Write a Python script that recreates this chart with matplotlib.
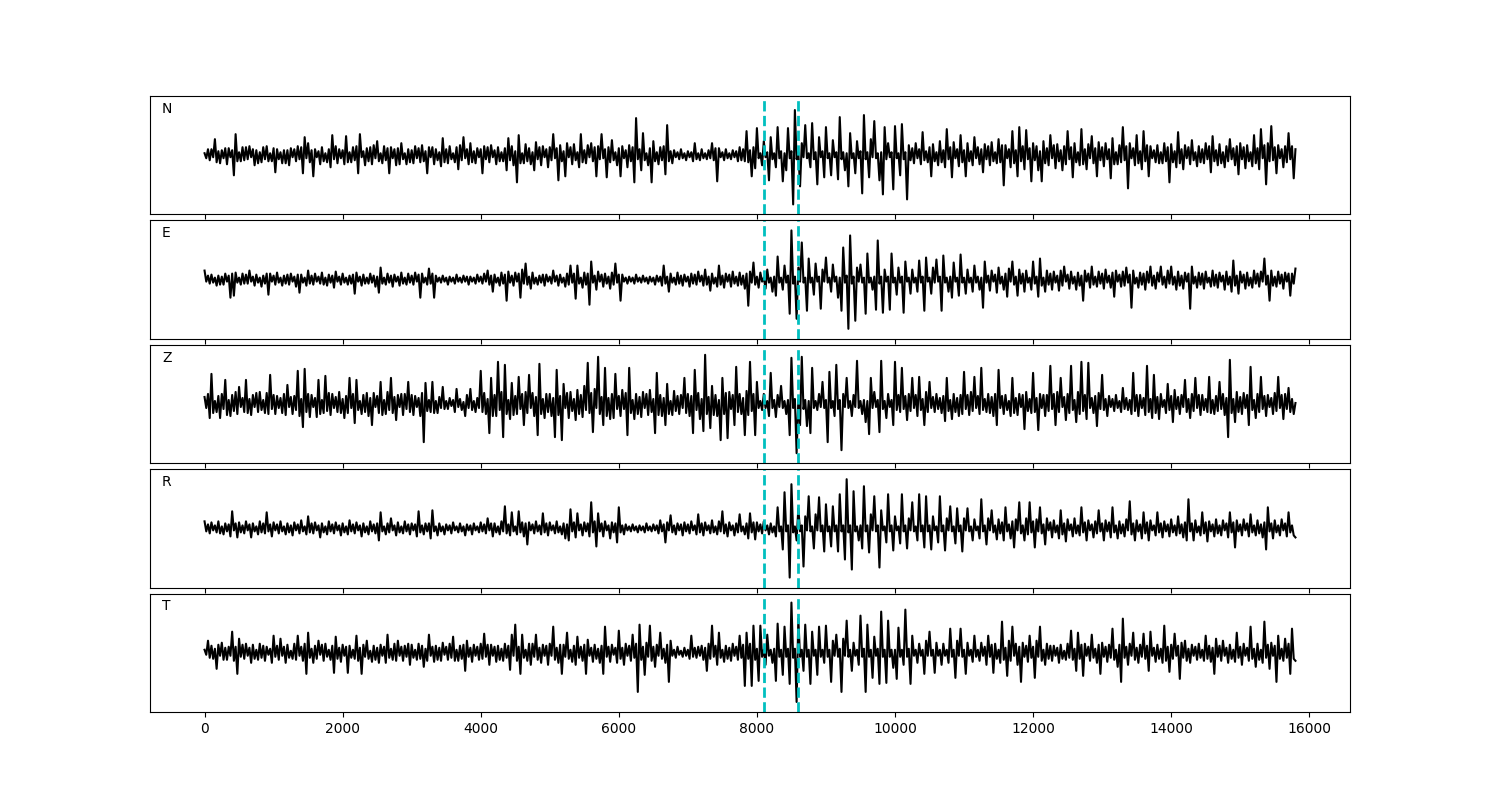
"""
Five-component seismogram (N, E, Z, R, T) with two picks
Output: out.png
"""

import numpy as np
import matplotlib
matplotlib.use("Agg")
import matplotlib.pyplot as plt

OUTPUT_PNG = "out.png"

DT = 25
# picks (dashed cyan lines)
PICKS = [8110, 8600]
COMPONENTS = ["N", "E", "Z", "R", "T"]

# amplitudes, one value every DT (one row = 1000 units)
TRACE_N = [
    2, -3, 6, -5, 6, -2, 16, -7, 4, -8, 5, -3, 7, -9, 7, -2, 5, -20, 21, -6, 3, -6, 8, -5, 8, -4, 9, -2, 6, -10, 5, -8, 3, -7, 8, -4, 9, -6, 2, -6,
    7, -17, 6, -4, 3, -8, 5, -8, 5, -10, 7, -2, 6, -6, 9, -4, 8, -18, 18, -3, 12, -7, 5, -21, 6, -2, 4, -9, 8, -6, 2, -7, 6, -12, 20, -4, 9, -8, 6, -3,
    5, -9, 19, -7, 3, -7, 8, -5, 9, -18, 21, -2, 4, -10, 7, -6, 8, -9, 10, -3, 14, -6, 2, -8, 9, -5, 7, -18, 8, -3, 6, -10, 7, -9, 12, -4, 2, -9, 6, -7,
    5, -8, 9, -3, 7, -7, 10, -6, 4, -18, 8, -2, 8, -9, 6, -5, 3, -11, 17, -7, 6, -8, 9, -4, 2, -7, 8, -14, 10, -5, 18, -3, 6, -9, 12, -7, 4, -8, 7, -2,
    6, -18, 9, -4, 8, -7, 10, -2, 5, -9, 8, -6, 3, -6, 7, -15, 17, -5, 9, -10, 4, -27, 20, -8, 2, -8, 11, -6, 7, -9, 3, -15, 13, -4, 8, -10, 9, -2, 6, -12,
    8, -5, 21, -3, 7, -25, 10, -6, 4, -21, 12, -2, 8, -9, 11, -5, 3, -12, 21, -7, 5, -8, 10, -2, 12, -6, 8, -21, 9, -4, 21, -3, 6, -22, 8, -7, 15, -5, 3, -10,
    7, -21, 9, -3, 5, -12, 10, -6, 8, -27, 37, -4, 6, -15, 22, -5, 2, -10, 7, -27, 14, -6, 3, -9, 8, -5, 9, -19, 30, -6, 4, -8, 5, -2, 3, -4, 6, -3, 2, -5,
    4, -2, 3, -6, 12, -4, 2, -5, 6, -3, 2, -4, 5, -3, 12, -5, 7, -26, 7, -2, 3, -5, 6, -3, 2, -4, 5, -2, 4, -6, 8, -5, 6, -6, 24, -7, 5, -21, 8, -13,
    27, -3, 2, -10, 14, -2, 3, -25, 18, -4, 2, -12, 28, -3, 4, -26, 2, -15, 27, -3, 4, -49, 45, -4, 3, -31, 12, -2, 30, -3, 2, -12, 32, -4, 3, -29, 18, -2, 4, -22,
    28, -3, 2, -20, 15, -2, 3, -24, 38, -4, 3, -15, 2, -31, 22, -3, 2, -18, 14, -3, 4, -38, 40, -4, 3, -22, 16, -2, 34, -3, 2, -25, 3, -39, 28, -4, 12, -2, 3, -34,
    29, -3, 2, -20, 31, -4, 3, -44, 10, -5, 7, -8, 12, -3, 6, -9, 23, -5, 4, -7, 8, -21, 11, -6, 3, -10, 14, -7, 5, -12, 26, -4, 8, -22, 13, -3, 6, -11, 20, -7,
    5, -21, 12, -6, 4, -10, 18, -3, 8, -9, 6, -17, 11, -4, 9, -10, 13, -6, 3, -8, 16, -7, 10, -30, 10, -3, 6, -12, 24, -8, 5, -21, 28, -6, 9, -14, 25, -4, 7, -26,
    12, -5, 9, -15, 4, -26, 14, -8, 7, -10, 20, -3, 10, -13, 11, -6, 5, -15, 9, -9, 24, -4, 8, -22, 12, -7, 3, -10, 26, -9, 6, -14, 11, -3, 19, -8, 7, -21, 13, -5,
    8, -11, 12, -4, 6, -23, 17, -9, 3, -9, 10, -7, 28, -5, 9, -33, 12, -3, 7, -10, 20, -8, 4, -14, 24, -6, 10, -21, 9, -3, 5, -7, 10, -8, 3, -8, 12, -6, 8, -27,
    11, -7, 4, -12, 23, -8, 6, -14, 10, -3, 8, -9, 15, -5, 3, -11, 9, -7, 6, -8, 12, -4, 9, -17, 19, -6, 5, -10, 11, -8, 3, -12, 9, -6, 16, -4, 7, -10, 9, -19,
    12, -4, 8, -13, 10, -6, 3, -11, 20, -8, 7, -14, 26, -3, 10, -29, 12, -6, 29, -5, 8, -18, 10, -3, 6, -12, 9, -7, 22, -4, 9, -23, 6,
]

TRACE_E = [
    9, -2, 4, -4, 5, -3, 2, -6, 4, -5, 3, -5, 6, -2, 4, -18, 6, -16, 7, -3, 2, -5, 6, -4, 5, -4, 9, -2, 3, -6, 5, -3, 2, -7, 4, -4, 6, -15, 6, -2,
    4, -5, 7, -3, 2, -6, 4, -4, 5, -5, 6, -2, 3, -7, 5, -13, 5, -3, 2, -6, 9, -4, 4, -5, 6, -2, 3, -4, 7, -5, 2, -6, 5, -3, 4, -8, 8, -2, 3, -5,
    6, -3, 2, -5, 4, -4, 5, -14, 7, -2, 3, -6, 5, -4, 2, -4, 6, -3, 4, -7, 3, -13, 12, -4, 2, -5, 6, -3, 4, -7, 5, -2, 3, -6, 7, -4, 2, -5, 6, -3,
    4, -5, 7, -2, 5, -18, 6, -3, 2, -5, 11, -4, 6, -18, 4, -2, 2, -3, 4, -2, 2, -5, 3, -2, 2, -4, 5, -2, 2, -3, 4, -2, 3, -5, 3, -2, 2, -4, 5, -2,
    3, -4, 6, -2, 9, -5, 4, -12, 5, -3, 2, -6, 7, -4, 5, -21, 8, -3, 4, -6, 7, -2, 6, -18, 10, -4, 16, -5, 3, -9, 7, -4, 2, -5, 4, -3, 5, -6, 5, -2,
    3, -4, 9, -2, 4, -6, 5, -3, 2, -7, 6, -5, 14, -3, 6, -19, 14, -4, 2, -8, 7, -5, 6, -25, 18, -3, 4, -10, 8, -2, 5, -7, 6, -4, 3, -9, 7, -5, 16, -3,
    5, -21, 5, -2, 2, -4, 3, -2, 2, -4, 5, -2, 2, -3, 4, -2, 2, -4, 3, -2, 2, -5, 4, -2, 3, -6, 14, -4, 3, -12, 6, -3, 2, -5, 7, -4, 4, -6, 5, -2,
    3, -7, 6, -4, 5, -5, 8, -2, 4, -6, 10, -5, 3, -11, 6, -4, 2, -7, 14, -5, 4, -8, 6, -2, 5, -7, 8, -4, 3, -6, 7, -5, 4, -9, 6, -26, 8, -3, 17, -5,
    3, -8, 7, -2, 2, -9, 10, -3, 2, -12, 3, -16, 23, -3, 2, -10, 14, -3, 4, -34, 49, -4, 3, -39, 12, -2, 37, -3, 2, -31, 21, -3, 2, -15, 16, -2, 3, -29, 10, -2,
    22, -3, 2, -12, 15, -2, 3, -18, 2, -31, 32, -3, 4, -49, 44, -4, 3, -41, 12, -2, 15, -3, 2, -34, 26, -3, 2, -10, 3, -30, 39, -4, 3, -33, 10, -2, 3, -30, 26, -3,
    2, -15, 12, -3, 3, -33, 18, -2, 2, -14, 10, -3, 2, -12, 19, -3, 3, -31, 22, -2, 2, -14, 12, -3, 20, -2, 3, -31, 24, -3, 2, -12, 3, -18, 17, -2, 2, -16, 25, -3,
    2, -14, 10, -3, 2, -12, 14, -3, 3, -10, 2, -28, 18, -3, 4, -11, 9, -2, 5, -13, 12, -4, 3, -10, 6, -17, 11, -2, 18, -5, 3, -16, 10, -4, 6, -12, 9, -3, 2, -10,
    18, -4, 3, -17, 21, -6, 2, -12, 9, -5, 6, -10, 8, -3, 4, -11, 9, -6, 13, -2, 5, -9, 8, -4, 3, -10, 7, -6, 4, -21, 9, -2, 6, -8, 13, -5, 3, -7, 8, -4,
    6, -9, 10, -3, 4, -8, 7, -17, 9, -2, 5, -7, 8, -6, 12, -3, 5, -28, 9, -4, 2, -8, 7, -5, 6, -10, 8, -3, 13, -6, 4, -9, 7, -2, 13, -5, 3, -8, 9, -4,
    13, -5, 3, -10, 8, -6, 4, -9, 7, -2, 6, -29, 13, -4, 3, -8, 7, -5, 6, -9, 8, -3, 2, -7, 9, -6, 5, -8, 7, -2, 4, -10, 8, -5, 3, -12, 19, -6, 4, -14,
    8, -3, 5, -9, 7, -6, 2, -8, 9, -4, 6, -7, 8, -2, 21, -5, 4, -21, 9, -6, 3, -7, 8, -4, 5, -9, 7, -2, 6, -16, 6, -4, 11,
]

TRACE_Z = [
    7, -4, 10, -14, 30, -9, 3, -8, 8, -14, 10, -5, 24, -11, 4, -12, 9, -7, 12, -10, 17, -3, 6, -8, 24, -9, 5, -11, 9, -3, 11, -8, 12, -6, 4, -9, 11, -10, 29, -5,
    9, -10, 8, -4, 6, -9, 10, -11, 19, -3, 7, -10, 8, -6, 33, -12, 5, -23, 35, -8, 10, -13, 9, -3, 6, -13, 24, -10, 4, -9, 28, -7, 11, -11, 10, -4, 7, -8, 12, -9,
    5, -14, 8, -9, 26, -4, 10, -19, 24, -6, 3, -10, 9, -8, 11, -12, 6, -21, 11, -3, 8, -9, 22, -11, 4, -10, 12, -6, 26, -9, 7, -16, 9, -3, 10, -11, 10, -5, 22, -8,
    9, -11, 8, -3, 6, -12, 11, -38, 21, -7, 4, -8, 22, -9, 3, -9, 7, -4, 17, -5, 3, -5, 6, -2, 4, -8, 15, -3, 5, -6, 2, -12, 9, -4, 15, -6, 3, -8, 6, -4,
    33, -8, 11, -10, 5, -29, 26, -12, 9, -12, 42, -6, 12, -33, 39, -10, 4, -15, 21, -11, 8, -10, 27, -5, 10, -21, 12, -9, 29, -4, 11, -12, 7, -31, 40, -10, 5, -14, 10, -8,
    10, -12, 6, -33, 34, -11, 8, -36, 20, -4, 11, -14, 12, -7, 5, -16, 14, -10, 9, -13, 18, -6, 41, -9, 11, -28, 15, -4, 47, -10, 7, -21, 36, -12, 6, -15, 10, -14, 30, -5,
    8, -12, 14, -5, 11, -31, 36, -9, 4, -15, 10, -10, 7, -13, 12, -4, 10, -11, 14, -8, 5, -29, 31, -11, 9, -12, 6, -21, 20, -10, 3, -11, 13, -7, 8, -10, 9, -4, 26, -9,
    10, -12, 8, -29, 34, -6, 11, -15, 5, -27, 49, -10, 7, -24, 18, -11, 9, -12, 4, -36, 26, -10, 11, -34, 12, -5, 9, -21, 37, -8, 10, -10, 6, -31, 13, -11, 42, -7, 10, -31,
    22, -4, 3, -6, 10, -4, 3, -12, 31, -4, 4, -13, 9, -3, 18, -4, 3, -10, 4, -31, 46, -4, 5, -49, 4, -21, 47, -5, 4, -22, 3, -29, 36, -4, 3, -6, 10, -3, 22, -4,
    4, -38, 32, -4, 3, -12, 39, -5, 4, -46, 10, -3, 26, -4, 3, -12, 9, -3, 43, -4, 3, -10, 4, -18, 3, -30, 26, -4, 12, -3, 4, -28, 43, -5, 3, -14, 10, -3, 4, -21,
    42, -6, 9, -8, 36, -5, 8, -16, 10, -7, 26, -4, 9, -12, 27, -6, 5, -21, 12, -8, 22, -4, 7, -8, 10, -5, 6, -9, 8, -17, 26, -7, 4, -15, 10, -8, 6, -12, 9, -10,
    32, -5, 9, -11, 12, -7, 27, -4, 8, -10, 36, -6, 5, -8, 10, -9, 7, -12, 10, -21, 34, -4, 8, -10, 9, -6, 3, -12, 26, -9, 6, -11, 10, -3, 9, -25, 12, -7, 5, -9,
    31, -8, 6, -26, 10, -4, 9, -12, 9, -7, 38, -5, 10, -21, 12, -8, 26, -3, 7, -16, 10, -9, 38, -6, 4, -18, 12, -10, 42, -7, 9, -15, 41, -4, 6, -9, 8, -22, 11, -5,
    29, -6, 5, -12, 8, -3, 5, -7, 9, -4, 3, -8, 16, -5, 6, -6, 4, -10, 31, -7, 9, -12, 9, -4, 6, -11, 38, -8, 5, -14, 29, -9, 7, -15, 10, -3, 4, -9, 20, -6,
    8, -18, 14, -5, 7, -10, 9, -3, 24, -8, 5, -14, 10, -7, 26, -4, 9, -11, 9, -6, 5, -8, 27, -9, 4, -10, 8, -7, 22, -5, 10, -11, 6, -33, 44, -9, 5, -18, 12, -8,
    7, -10, 11, -4, 9, -21, 37, -6, 4, -14, 10, -8, 27, -5, 8, -12, 9, -3, 6, -10, 11, -7, 27, -4, 9, -15, 10, -5, 16, -8, 5, -10, 1,
]

TRACE_R = [
    7, -3, 4, -5, 6, -2, 3, -4, 7, -5, 2, -6, 5, -3, 4, -8, 17, -2, 5, -9, 6, -4, 3, -5, 7, -2, 4, -9, 5, -3, 2, -6, 7, -4, 5, -5, 16, -3, 4, -8,
    6, -2, 4, -5, 7, -3, 2, -6, 5, -4, 3, -7, 6, -2, 4, -5, 8, -3, 2, -6, 12, -4, 5, -5, 6, -2, 3, -9, 5, -4, 2, -6, 7, -3, 4, -5, 6, -2, 3, -7,
    5, -4, 2, -6, 8, -3, 4, -5, 6, -2, 3, -8, 5, -4, 2, -6, 7, -3, 4, -5, 5, -12, 16, -3, 2, -6, 5, -4, 10, -2, 3, -7, 6, -4, 2, -5, 7, -3, 4, -6,
    5, -2, 4, -8, 17, -4, 3, -6, 5, -3, 5, -10, 18, -3, 2, -7, 5, -3, 2, -6, 4, -2, 3, -5, 6, -2, 2, -4, 5, -3, 2, -7, 4, -2, 3, -6, 5, -2, 2, -4,
    6, -3, 4, -5, 10, -2, 5, -8, 5, -4, 2, -6, 7, -3, 22, -5, 4, -7, 16, -3, 2, -6, 17, -4, 6, -8, 5, -16, 6, -2, 4, -5, 7, -3, 3, -6, 15, -4, 5, -7,
    6, -2, 3, -5, 7, -4, 2, -6, 5, -10, 4, -12, 19, -3, 6, -9, 15, -2, 4, -7, 6, -3, 5, -8, 26, -4, 7, -18, 15, -3, 5, -8, 7, -2, 3, -10, 6, -4, 5, -14,
    21, -4, 3, -6, 4, -2, 2, -3, 4, -2, 2, -4, 3, -2, 2, -4, 5, -2, 2, -3, 4, -2, 3, -5, 8, -3, 4, -14, 6, -2, 13, -4, 3, -6, 5, -2, 4, -7, 6, -3,
    4, -5, 7, -2, 3, -6, 14, -4, 5, -7, 6, -2, 3, -5, 8, -4, 2, -6, 7, -3, 17, -5, 4, -8, 6, -2, 3, -7, 5, -4, 14, -3, 2, -6, 5, -10, 15, -4, 6, -11,
    6, -3, 4, -5, 7, -2, 3, -6, 5, -4, 2, -8, 21, -3, 2, -21, 36, -3, 3, -49, 44, -4, 2, -12, 20, -3, 3, -38, 12, -2, 32, -3, 2, -20, 14, -2, 31, -3, 3, -23,
    24, -3, 2, -18, 22, -3, 3, -23, 34, -3, 3, -31, 49, -4, 3, -41, 37, -3, 2, -12, 3, -20, 42, -3, 3, -24, 14, -2, 32, -3, 3, -39, 18, -2, 2, -14, 34, -3, 3, -22,
    12, -2, 2, -15, 34, -3, 3, -20, 10, -2, 26, -3, 2, -12, 34, -3, 3, -19, 32, -3, 3, -21, 12, -2, 2, -14, 32, -3, 3, -22, 10, -2, 22, -3, 2, -15, 20, -3, 3, -23,
    10, -2, 20, -3, 2, -12, 9, -2, 2, -10, 29, -3, 3, -16, 10, -2, 18, -4, 3, -11, 9, -5, 6, -12, 21, -3, 4, -10, 7, -19, 9, -2, 26, -5, 3, -12, 10, -6, 26, -4,
    7, -19, 9, -3, 21, -5, 4, -16, 10, -2, 6, -9, 8, -4, 3, -10, 18, -6, 5, -13, 9, -2, 4, -8, 10, -5, 3, -7, 21, -4, 6, -12, 8, -2, 4, -9, 7, -5, 18, -3,
    5, -12, 8, -3, 6, -9, 21, -4, 3, -10, 7, -5, 4, -8, 9, -2, 27, -6, 5, -12, 8, -3, 4, -10, 16, -5, 6, -12, 8, -2, 3, -7, 16, -4, 5, -9, 7, -3, 4, -8,
    9, -4, 3, -7, 12, -5, 4, -9, 6, -12, 29, -3, 5, -12, 8, -4, 2, -7, 16, -5, 6, -13, 7, -3, 4, -8, 9, -5, 3, -7, 8, -2, 5, -9, 16, -4, 6, -19, 8, -3,
    4, -7, 9, -2, 5, -8, 14, -4, 3, -7, 8, -5, 4, -9, 6, -21, 21, -3, 5, -10, 8, -4, 3, -7, 9, -2, 5, -8, 16, -4, 3, -7, -9,
]

TRACE_T = [
    3, -2, 12, -5, 7, -6, 4, -16, 8, -3, 10, -7, 5, -7, 6, -3, 21, -8, 6, -21, 14, -4, 8, -6, 9, -3, 5, -10, 8, -6, 3, -7, 9, -5, 7, -8, 6, -2, 4, -10,
    17, -4, 7, -7, 14, -3, 6, -10, 8, -5, 2, -6, 9, -7, 17, -3, 6, -8, 9, -21, 20, -5, 4, -10, 7, -6, 12, -2, 8, -8, 9, -4, 3, -7, 7, -20, 16, -6, 5, -9,
    8, -3, 6, -20, 7, -5, 3, -6, 17, -8, 5, -21, 8, -4, 12, -6, 2, -9, 7, -7, 5, -10, 8, -3, 6, -10, 18, -5, 4, -7, 9, -8, 12, -3, 6, -8, 7, -4, 9, -12,
    8, -5, 3, -7, 9, -6, 7, -14, 4, -8, 18, -3, 6, -9, 7, -7, 5, -8, 10, -2, 6, -7, 9, -5, 16, -8, 3, -8, 7, -6, 8, -18, 12, -4, 5, -9, 8, -3, 6, -7,
    9, -6, 19, -4, 8, -12, 8, -3, 6, -9, 7, -7, 4, -8, 9, -5, 7, -17, 18, -3, 28, -8, 6, -21, 18, -5, 3, -8, 9, -12, 9, -4, 18, -7, 5, -10, 8, -3, 7, -12,
    9, -3, 26, -7, 5, -10, 8, -21, 8, -4, 20, -6, 3, -9, 7, -12, 16, -5, 6, -8, 8, -21, 13, -3, 5, -9, 8, -6, 4, -10, 7, -21, 26, -4, 6, -9, 8, -2, 5, -10,
    22, -6, 5, -12, 9, -3, 7, -8, 18, -5, 9, -39, 28, -7, 6, -22, 10, -4, 27, -8, 6, -14, 8, -3, 20, -6, 4, -10, 8, -29, 12, -3, 3, -5, 6, -2, 2, -4, 5, -3,
    3, -6, 17, -4, 5, -5, 6, -3, 7, -7, 5, -18, 9, -6, 27, -4, 7, -12, 20, -5, 3, -9, 7, -6, 5, -8, 9, -3, 6, -7, 17, -5, 8, -33, 20, -6, 9, -33, 27, -7,
    4, -28, 27, -4, 3, -12, 18, -3, 3, -10, 4, -28, 29, -4, 3, -22, 26, -4, 4, -31, 50, -5, 4, -49, 34, -4, 3, -18, 28, -4, 3, -31, 21, -3, 3, -22, 26, -4, 3, -10,
    27, -4, 3, -29, 12, -3, 18, -4, 4, -39, 14, -3, 32, -4, 3, -18, 10, -3, 3, -12, 37, -4, 4, -39, 28, -4, 3, -25, 16, -3, 4, -31, 41, -4, 3, -30, 32, -4, 3, -15,
    3, -26, 25, -4, 3, -12, 43, -4, 4, -31, 17, -3, 3, -10, 9, -3, 3, -21, 12, -3, 21, -3, 3, -20, 10, -3, 3, -12, 9, -3, 3, -10, 24, -4, 3, -25, 12, -3, 24, -4,
    3, -21, 10, -3, 3, -9, 17, -4, 3, -8, 10, -3, 6, -12, 17, -4, 8, -20, 9, -6, 3, -10, 31, -7, 5, -23, 12, -8, 26, -3, 9, -12, 6, -29, 10, -4, 7, -9, 17, -5,
    6, -25, 12, -4, 26, -8, 3, -12, 9, -6, 7, -8, 7, -3, 5, -10, 8, -6, 2, -7, 9, -5, 22, -7, 4, -18, 20, -6, 8, -23, 9, -3, 6, -8, 18, -5, 4, -10, 8, -21,
    10, -4, 6, -9, 8, -5, 24, -7, 3, -14, 8, -29, 34, -5, 6, -12, 9, -3, 20, -7, 5, -10, 8, -4, 19, -6, 7, -18, 21, -3, 5, -9, 8, -6, 4, -10, 27, -8, 6, -19,
    8, -6, 19, -3, 7, -26, 10, -5, 12, -8, 4, -10, 8, -3, 6, -7, 9, -5, 3, -8, 17, -6, 7, -9, 5, -21, 14, -4, 7, -8, 12, -3, 5, -10, 8, -6, 3, -9, 20, -5,
    6, -12, 9, -3, 5, -8, 26, -6, 4, -14, 9, -7, 3, -10, 31, -5, 8, -16, 10, -3, 7, -29, 17, -6, 4, -8, 14, -5, 9, -21, 24, -6, -8,
]

TRACES = [TRACE_N, TRACE_E, TRACE_Z, TRACE_R, TRACE_T]


def main():
    fig, axes = plt.subplots(5, 1, figsize=(15, 8), sharex=True)
    fig.subplots_adjust(left=0.1, right=0.9, top=0.88, bottom=0.11, hspace=0.05)

    for ax, name, trace in zip(axes, COMPONENTS, TRACES):
        y = np.array(trace, dtype=float)
        t = np.arange(len(y)) * DT
        ax.plot(t, y, color="k", linewidth=1.5)
        for p in PICKS:
            ax.axvline(p, color="c", linestyle="--", linewidth=2)
        ax.set_ylim(-59, 59)
        ax.set_yticks([])
        ax.text(0.01, 0.95, name, transform=ax.transAxes, va="top", fontsize=10)

    plt.savefig(OUTPUT_PNG, dpi=100)
    plt.close()


if __name__ == "__main__":
    main()
